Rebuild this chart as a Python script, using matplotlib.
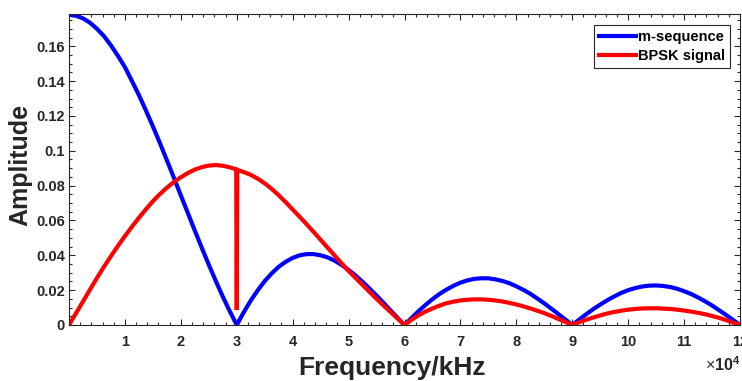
import numpy as np
import matplotlib
matplotlib.use("Agg")
import matplotlib.pyplot as plt
from matplotlib.ticker import MultipleLocator

plt.rcParams['font.family'] = ['Liberation Sans', 'DejaVu Sans']
plt.rcParams['mathtext.fontset'] = 'custom'
plt.rcParams['mathtext.rm'] = 'Liberation Sans'
plt.rcParams['mathtext.bf'] = 'Liberation Sans:bold'

# Frequencies in units of 1e4 (sampled every 0.125)
freq_m = [0.0, 0.125, 0.25, 0.375, 0.5, 0.625, 0.75, 0.875,
          1.0, 1.125, 1.25, 1.375, 1.5, 1.625, 1.75, 1.875,
          2.0, 2.125, 2.25, 2.375, 2.5, 2.625, 2.75, 2.875,
          3.0, 3.125, 3.25, 3.375, 3.5, 3.625, 3.75, 3.875,
          4.0, 4.125, 4.25, 4.375, 4.5, 4.625, 4.75, 4.875,
          5.0, 5.125, 5.25, 5.375, 5.5, 5.625, 5.75, 5.875,
          6.0, 6.125, 6.25, 6.375, 6.5, 6.625, 6.75, 6.875,
          7.0, 7.125, 7.25, 7.375, 7.5, 7.625, 7.75, 7.875,
          8.0, 8.125, 8.25, 8.375, 8.5, 8.625, 8.75, 8.875,
          9.0, 9.125, 9.25, 9.375, 9.5, 9.625, 9.75, 9.875,
          10.0, 10.125, 10.25, 10.375, 10.5, 10.625, 10.75, 10.875,
          11.0, 11.125, 11.25, 11.375, 11.5, 11.625, 11.75, 11.875,
          12.0]
amp_m = [0.178, 0.1775, 0.176, 0.1735, 0.170, 0.1658, 0.1605, 0.1545,
         0.148, 0.1401, 0.132, 0.1232, 0.114, 0.1045, 0.0946, 0.0846,
         0.0744, 0.0643, 0.0542, 0.0443, 0.0346, 0.0253, 0.0163, 0.0079,
         0.0, 0.0073, 0.014, 0.0199, 0.0252, 0.0296, 0.0334, 0.0363,
         0.0385, 0.0400, 0.0407, 0.0407, 0.0400, 0.0388, 0.0369, 0.0345,
         0.0316, 0.0284, 0.0248, 0.0209, 0.0169, 0.0127, 0.0084, 0.0042,
         0.0, 0.0040, 0.0079, 0.0115, 0.0148, 0.0178, 0.0203, 0.0225,
         0.0243, 0.0256, 0.0265, 0.0268, 0.0268, 0.0262, 0.0253, 0.0240,
         0.0222, 0.0202, 0.0179, 0.0152, 0.0124, 0.0094, 0.0063, 0.0032,
         0.0, 0.0031, 0.0062, 0.0091, 0.0117, 0.0142, 0.0164, 0.0184,
         0.0200, 0.0212, 0.0221, 0.0226, 0.0227, 0.0224, 0.0218, 0.0208,
         0.0194, 0.0178, 0.0158, 0.0136, 0.0112, 0.0085, 0.0058, 0.0029,
         0.0]

freq_b = [0.0, 0.125, 0.25, 0.375, 0.5, 0.625, 0.75, 0.875,
          1.0, 1.125, 1.25, 1.375, 1.5, 1.625, 1.75, 1.875,
          2.0, 2.125, 2.25, 2.375, 2.5, 2.625, 2.75, 2.875, 2.99,
          3.0, 3.01, 3.125, 3.25, 3.375, 3.5, 3.625, 3.75, 3.875,
          4.0, 4.125, 4.25, 4.375, 4.5, 4.625, 4.75, 4.875,
          5.0, 5.125, 5.25, 5.375, 5.5, 5.625, 5.75, 5.875,
          6.0, 6.125, 6.25, 6.375, 6.5, 6.625, 6.75, 6.875,
          7.0, 7.125, 7.25, 7.375, 7.5, 7.625, 7.75, 7.875,
          8.0, 8.125, 8.25, 8.375, 8.5, 8.625, 8.75, 8.875,
          9.0, 9.125, 9.25, 9.375, 9.5, 9.625, 9.75, 9.875,
          10.0, 10.125, 10.25, 10.375, 10.5, 10.625, 10.75, 10.875,
          11.0, 11.125, 11.25, 11.375, 11.5, 11.625, 11.75, 11.875,
          12.0]
amp_b = [0.0, 0.00675, 0.0135, 0.0203, 0.027, 0.0334, 0.0395, 0.0454,
         0.051, 0.0564, 0.0615, 0.0664, 0.071, 0.0751, 0.0788, 0.0820,
         0.0848, 0.0872, 0.0892, 0.0906, 0.0915, 0.0918, 0.0914, 0.0905, 0.0893,
         0.0086, 0.0890, 0.0878, 0.0862, 0.0840, 0.0813, 0.0781, 0.0745, 0.0705,
         0.0663, 0.0621, 0.0578, 0.0534, 0.0489, 0.0444, 0.0399, 0.0354,
         0.0310, 0.0270, 0.0230, 0.0190, 0.0150, 0.0112, 0.0075, 0.0037,
         0.0, 0.0030, 0.0055, 0.0077, 0.0095, 0.0111, 0.0125, 0.0134,
         0.0141, 0.0145, 0.0147, 0.0147, 0.0145, 0.0141, 0.0135, 0.0127,
         0.0118, 0.0107, 0.0095, 0.0082, 0.0068, 0.0052, 0.0035, 0.0018,
         0.0, 0.0016, 0.0030, 0.0043, 0.0055, 0.0066, 0.0075, 0.0082,
         0.0088, 0.0092, 0.0095, 0.0096, 0.0096, 0.0094, 0.0092, 0.0088,
         0.0083, 0.0077, 0.0070, 0.0062, 0.0052, 0.0041, 0.0028, 0.0014,
         0.0]

xticks = [1, 2, 3, 4, 5, 6, 7, 8, 9, 10, 11, 12]
xtick_labels = ['1', '2', '3', '4', '5', '6', '7', '8', '9', '10', '11', '12']
yticks = [0, 0.02, 0.04, 0.06, 0.08, 0.1, 0.12, 0.14, 0.16]
ytick_labels = ['0', '0.02', '0.04', '0.06', '0.08', '0.1', '0.12', '0.14', '0.16']

fig = plt.figure(figsize=(7.42, 3.81), dpi=100)
ax = fig.add_axes([69/742, 1-325/381, (740-69)/742, (325-14)/381])

ax.plot(freq_m, amp_m, color='#0000ff', lw=3, label='m-sequence', solid_joinstyle='round')
ax.plot(freq_b, amp_b, color='#ff0000', lw=3, label='BPSK signal', solid_joinstyle='miter')

ax.set_xlim(0, 12)
ax.set_ylim(0, 0.1785)
ax.set_xticks(xticks)
ax.set_xticklabels(xtick_labels)
ax.set_yticks(yticks)
ax.set_yticklabels(ytick_labels)
ax.xaxis.set_minor_locator(MultipleLocator(0.2))
ax.yaxis.set_minor_locator(MultipleLocator(0.005))

tc = '#262626'
ax.tick_params(which='both', direction='in', top=True, right=True, colors=tc,
               labelcolor=tc, width=0.8)
ax.tick_params(which='major', length=4.5)
ax.tick_params(which='minor', length=2.3)
ax.tick_params(axis='x', which='major', pad=7)
ax.tick_params(axis='y', which='major', pad=3)
for lab in ax.get_xticklabels() + ax.get_yticklabels():
    lab.set_fontweight('bold')
    lab.set_fontsize(10.5)
for s in ax.spines.values():
    s.set_color(tc)
    s.set_linewidth(0.8)

ax.set_xlabel('Frequency/kHz', fontsize=19, fontweight='bold', color=tc)
ax.xaxis.set_label_coords((392-69)/671, (325-368)/311)
ax.xaxis.label.set_va('center')
ax.set_ylabel('Amplitude', fontsize=18, fontweight='bold', color=tc)
ax.yaxis.set_label_coords((20-69)/671, (325-165)/311)
ax.yaxis.label.set_va('center')

ax.text(1.0, (325-355)/311, r'$\times\mathbf{10^{4}}$', transform=ax.transAxes,
        ha='right', va='top', fontsize=11.5, color=tc)

leg = ax.legend(loc='upper right', bbox_to_anchor=(0.985, 0.965), borderaxespad=0,
                prop={'weight': 'bold', 'size': 10.5}, fancybox=False, framealpha=1,
                edgecolor=tc, handlelength=2.5, handletextpad=0.15, borderpad=0.35,
                labelspacing=0.35)
leg.get_frame().set_linewidth(0.8)
for t in leg.get_texts():
    t.set_color('black')

fig.savefig('out.png', dpi=100)
